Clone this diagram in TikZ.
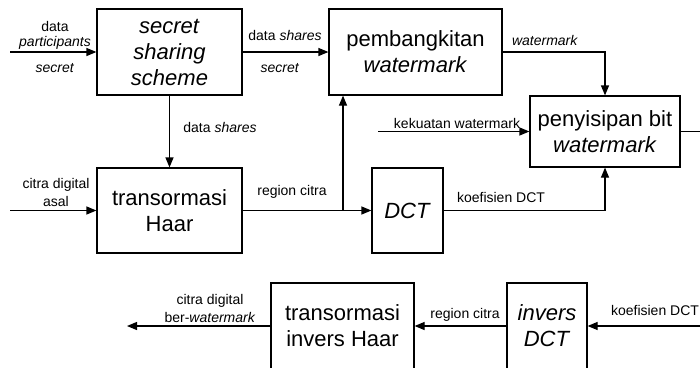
\documentclass[tikz,border=0pt]{standalone}
\usepackage{fontspec}
\setmainfont{Liberation Sans}
\usetikzlibrary{arrows.meta, positioning}

\newcommand{\boxFont}{\fontsize{22}{26}\selectfont}
\newcommand{\labelFont}{\fontsize{14}{18}\selectfont}
\newcommand{\lineW}{1.2pt}

\tikzset{
  block/.style={draw, line width=\lineW, inner sep=0pt, align=center, font=\boxFont},
  lbl/.style={inner sep=0pt, align=center, font=\labelFont},
  flow/.style={line width=\lineW, -{Triangle[length=10pt, width=8pt]}},
}

\begin{document}
\begin{tikzpicture}[x=1pt, y=-1pt]
  \clip (0,0) rectangle (700,367);

  % blok proses
  \node[block, minimum width=145, minimum height=86] (sss) at (169.5,52) {\textit{secret}\\\textit{sharing}\\\textit{scheme}};
  \node[block, minimum width=173, minimum height=86] (pw) at (415.5,52) {pembangkitan\\\textit{watermark}};
  \node[block, minimum width=150, minimum height=71] (pbw) at (605,131.5) {penyisipan bit\\\textit{watermark}};
  \node[block, minimum width=145, minimum height=85] (haar) at (169.5,210.5) {transormasi\\Haar};
  \node[block, minimum width=71, minimum height=85] (dct) at (407.5,210.5) {\textit{DCT}};
  \node[block, minimum width=143, minimum height=86] (tih) at (342.5,326) {transormasi\\invers Haar};
  \node[block, minimum width=80, minimum height=86] (idct) at (547,326) {\textit{invers}\\\textit{DCT}};

  % ujung bebas
  \coordinate (inSecret) at (10,52);
  \coordinate (inImage) at (10,210.5);
  \coordinate (inStrength) at (378,131.5);
  \coordinate (split) at (343,210.5);
  \coordinate (outRight) at (700,131.5);
  \coordinate (inRight) at (700,326);
  \coordinate (outLeft) at (127,326);

  % panah
  \draw[flow] (inSecret) -- (sss.west);
  \draw[flow] (sss.east) -- (pw.west);
  \draw[flow] (sss.south) -- (haar.north);
  \draw[flow] (pw.east) -| (pbw.north);
  \draw[flow] (inStrength) -- (pbw.west);
  \draw[flow] (inImage) -- (haar.west);
  \draw[flow] (haar.east) -- (dct.west);
  \draw[flow] (split) -- (split |- pw.south);
  \draw[flow] (dct.east) -| (pbw.south);
  \draw[line width=\lineW] (pbw.east) -- (outRight);
  \draw[flow] (inRight) -- (idct.east);
  \draw[flow] (idct.west) -- (tih.east);
  \draw[flow] (tih.west) -- (outLeft);

  % label
  \node[lbl] (lblParticipants) at (55,35.5) {data\\[-3pt]\textit{participants}};
  \node[lbl] (lblSecretIn) at (55,68) {\textit{secret}};
  \node[lbl] (lblShares) at (285,35) {data \textit{shares}};
  \node[lbl] (lblSecret) at (280,68) {\textit{secret}};
  \node[lbl] (lblSharesDown) at (220,127) {data \textit{shares}};
  \node[lbl] (lblWatermark) at (545,40) {\textit{watermark}};
  \node[lbl] (lblStrength) at (457,123) {kekuatan watermark};
  \node[lbl] (lblImage) at (56,192.5) {citra digital\\asal};
  \node[lbl] (lblRegion) at (292,192) {region citra};
  \node[lbl] (lblCoef) at (501,197) {koefisien DCT};
  \node[lbl] (lblResult) at (210,308) {citra digital\\ber-\textit{watermark}};
  \node[lbl] (lblRegionInv) at (465,315) {region citra};
  \node[lbl] (lblCoefIn) at (655,310) {koefisien DCT};
\end{tikzpicture}
\end{document}
